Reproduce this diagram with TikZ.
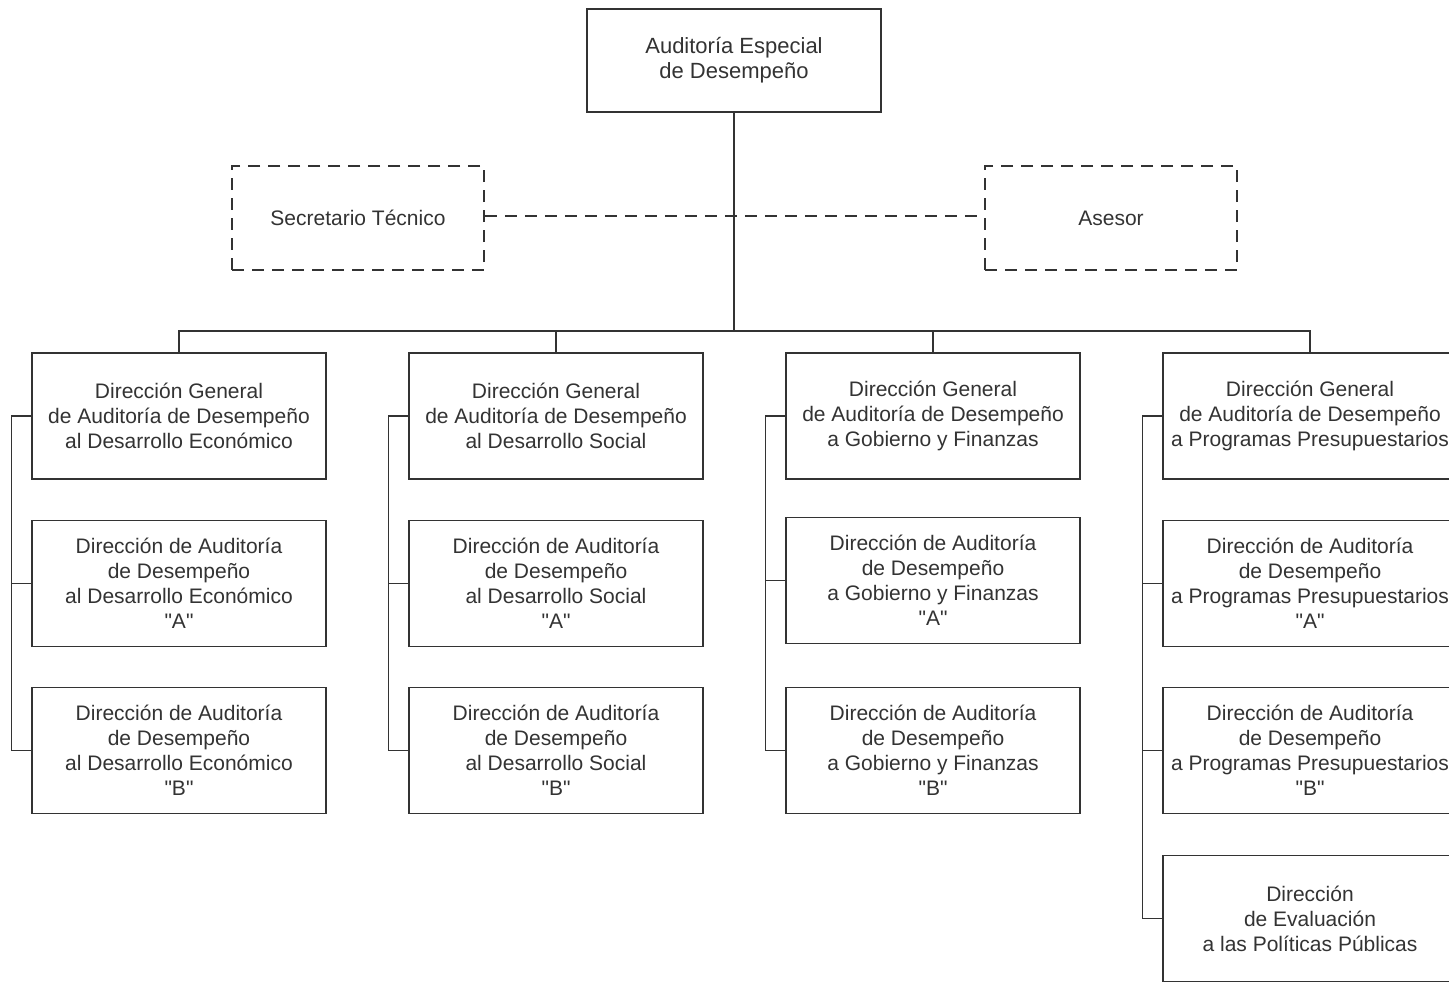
\documentclass[tikz,border=0pt]{standalone}
\usepackage{fontspec}
\setmainfont{Liberation Sans}
\usetikzlibrary{positioning}
\newcommand{\qq}[1]{\textquotedbl#1\textquotedbl}

\begin{document}
\begin{tikzpicture}[
		x=0.5pt, y=-0.5pt,
		% estilos de las cajas del organigrama
		unit/.style={draw=black!80, line width=0.8pt, fill=white, align=center,
			minimum width=147pt, minimum height=63pt, inner sep=2pt,
			font=\fontsize{10.5}{12.5}\selectfont, text=black!80},
		staff/.style={unit, dashed, dash pattern=on 6pt off 4pt, minimum width=126pt, minimum height=52pt},
		link/.style={draw=black!80, line width=0.7pt}
		]
		
		% ----- 0. area visible -----
		\useasboundingbox (0,0) rectangle (1449,981);
		
		% ----- 1. titular y apoyo -----
		\node[unit, minimum height=51.5pt, font=\fontsize{11}{12.5}\selectfont] (top) at (734,60.5) {Auditoría Especial\\de Desempeño};
		\node[staff] (sec) at (358,218) {Secretario Técnico};
		\node[staff] (ase) at (1111,218) {Asesor};
		
		% ----- 2. direcciones generales -----
		\node[unit] (g1) at (179,416) {Dirección General\\de Auditoría de Desempeño\\al Desarrollo Económico};
		\node[unit] (g2) at (556,416) {Dirección General\\de Auditoría de Desempeño\\al Desarrollo Social};
		\node[unit] (g3) at (933,416) {Dirección General\\de Auditoría de Desempeño\\a Gobierno y Finanzas};
		\node[unit] (g4) at (1310,416) {Dirección General\\de Auditoría de Desempeño\\a Programas Presupuestarios};
		
		% ----- 3. direcciones de area -----
		\node[unit] (a1) at (179,583.5) {Dirección de Auditoría\\de Desempeño\\al Desarrollo Económico\\\qq{A}};
		\node[unit] (b1) at (179,750.5) {Dirección de Auditoría\\de Desempeño\\al Desarrollo Económico\\\qq{B}};
		\node[unit] (a2) at (556,583.5) {Dirección de Auditoría\\de Desempeño\\al Desarrollo Social\\\qq{A}};
		\node[unit] (b2) at (556,750.5) {Dirección de Auditoría\\de Desempeño\\al Desarrollo Social\\\qq{B}};
		\node[unit] (a3) at (933,580.5) {Dirección de Auditoría\\de Desempeño\\a Gobierno y Finanzas\\\qq{A}};
		\node[unit] (b3) at (933,750.5) {Dirección de Auditoría\\de Desempeño\\a Gobierno y Finanzas\\\qq{B}};
		\node[unit] (a4) at (1310,583.5) {Dirección de Auditoría\\de Desempeño\\a Programas Presupuestarios\\\qq{A}};
		\node[unit] (b4) at (1310,750.5) {Dirección de Auditoría\\de Desempeño\\a Programas Presupuestarios\\\qq{B}};
		\node[unit] (ev) at (1310,918.5) {Dirección\\de Evaluación\\a las Políticas Públicas};
		
		% ----- 4. lineas de mando -----
		\coordinate (bus) at (734,331);
		\draw[link, line width=1.1pt] (top) -- (bus);
		\draw[link, dashed, dash pattern=on 6pt off 4pt] (sec.east |- 0,216) -- (ase.west |- 0,216);
		\draw[link] (g1.north) |- (g4.north |- bus) -- (g4.north);
		\draw[link] (g2.north) -- (g2.north |- bus);
		\draw[link] (g3.north) -- (g3.north |- bus);
		
		% ramales laterales de cada columna
		\foreach \c in {1,2,3} {
			\draw[link] (g\c.west) -- ++(-20,0) |- (b\c.west);
			\draw[link] (a\c.west) -- ++(-20,0);
		}
		\draw[link] (g4.west) -- ++(-20,0) |- (ev.west);
		\draw[link] (a4.west) -- ++(-20,0);
		\draw[link] (b4.west) -- ++(-20,0);
		
	\end{tikzpicture}
\end{document}
